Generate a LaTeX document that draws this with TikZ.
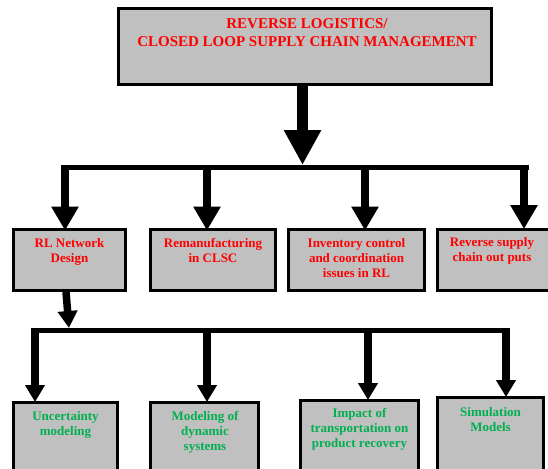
\documentclass[tikz,border=0pt]{standalone}
\usepackage{fontspec}
\setmainfont{Liberation Serif}
\usetikzlibrary{arrows.meta}
\definecolor{boxgray}{HTML}{C0C0C0}
\definecolor{txtred}{HTML}{FF0000}
\definecolor{txtgreen}{HTML}{00B050}
\begin{document}
\begin{tikzpicture}[x=1pt,y=-1pt,
  box/.style={draw=black, line width=3pt, fill=boxgray, inner sep=0pt},
  redtxt/.style={text=txtred, font=\bfseries\fontsize{13}{15}\selectfont, align=center, inner sep=0pt, anchor=north},
  greentxt/.style={text=txtgreen, font=\bfseries\fontsize{13}{15}\selectfont, align=center, inner sep=0pt, anchor=north},
  bigarrow/.style={line width=11pt, -{Triangle[width=35pt,length=35pt]}},
  droparrow/.style={line width=8pt, -{Triangle[width=26pt,length=24pt]}},
  smallarrow/.style={line width=7.5pt, -{Triangle[width=19pt,length=17pt]}},
  bus/.style={line width=5pt}]
\useasboundingbox (0,0) rectangle (548,468);
\clip (0,0) rectangle (548,468);
\fill[white] (0,0) rectangle (548,468);

% top box
\node[box, minimum width=373pt, minimum height=76pt] (top) at (305,46.5) {};
\node[text=txtred, font=\bfseries\fontsize{15}{18}\selectfont, align=center, inner sep=0pt, anchor=north] (toptxt) at (307,18)
  {REVERSE LOGISTICS/\\CLOSED LOOP SUPPLY CHAIN MANAGEMENT};

% first row
\node[box, minimum width=112pt, minimum height=61pt] (b1) at (69.5,260) {};
\node[box, minimum width=125pt, minimum height=61pt] (b2) at (213,260) {};
\node[box, minimum width=136pt, minimum height=61pt] (b3) at (356.5,260) {};
\node[box, minimum width=112pt, minimum height=61pt] (b4) at (493.5,260) {};
\node[redtxt] (t1) at (69.5,238) {RL Network\\Design};
\node[redtxt] (t2) at (213,238) {Remanufacturing\\in CLSC};
\node[redtxt] (t3) at (356.5,238) {Inventory control\\and coordination\\issues in RL};
\node[redtxt] (t4) at (492,237) {Reverse supply\\chain out puts};

% second row
\node[box, minimum width=104pt, minimum height=69.5pt] (c1) at (65.5,437.25) {};
\node[box, minimum width=108pt, minimum height=69.5pt] (c2) at (204.5,437.25) {};
\node[box, minimum width=118pt, minimum height=71.5pt] (c3) at (359.5,436.25) {};
\node[box, minimum width=106pt, minimum height=74.5pt] (c4) at (490.5,434.75) {};
\node[greentxt] (u1) at (65.5,411) {Uncertainty\\modeling};
\node[greentxt] (u2) at (205,411) {Modeling of\\dynamic\\systems};
\node[greentxt] (u3) at (359.5,408) {Impact of\\transportation on\\product recovery};
\node[greentxt] (u4) at (490.5,407) {Simulation\\Models};

% main arrow and first bus
\coordinate (hub) at (302.5,167);
\draw[bigarrow] (top.south -| hub) -- ([yshift=2pt]hub);
\coordinate (busL) at (61,167);
\coordinate (busR) at (529,167);
\draw[bus] (busL) -- (busR);
\coordinate (d1) at (65,164.5);
\coordinate (d2) at (207,164.5);
\coordinate (d3) at (365,164.5);
\coordinate (d4) at (524,164.5);
\draw[droparrow, shorten >=-2.5pt] (d1) -- (d1 |- b1.north);
\draw[droparrow, shorten >=-2.5pt] (d2) -- (d2 |- b2.north);
\draw[droparrow, shorten >=-2.5pt] (d3) -- (d3 |- b3.north);
\draw[droparrow, shorten >=-1pt] (d4) -- (d4 |- b4.north);

% second arrow and bus
\coordinate (hub2) at (69,328);
\draw[smallarrow] ([xshift=-3.5pt]b1.south) -- (hub2);
\coordinate (bus2L) at (31.5,330);
\coordinate (bus2R) at (509.5,330);
\draw[bus] (bus2L) -- (bus2R);
\coordinate (e1) at (35,327.5);
\coordinate (e2) at (207,327.5);
\coordinate (e3) at (368,327.5);
\coordinate (e4) at (506,327.5);
\draw[smallarrow, shorten >=-1pt] (e1) -- (e1 |- c1.north);
\draw[smallarrow, shorten >=-1pt] (e2) -- (e2 |- c2.north);
\draw[smallarrow, shorten >=-1pt] (e3) -- (e3 |- c3.north);
\draw[smallarrow, shorten >=-1pt] (e4) -- (e4 |- c4.north);
\end{tikzpicture}
\end{document}
